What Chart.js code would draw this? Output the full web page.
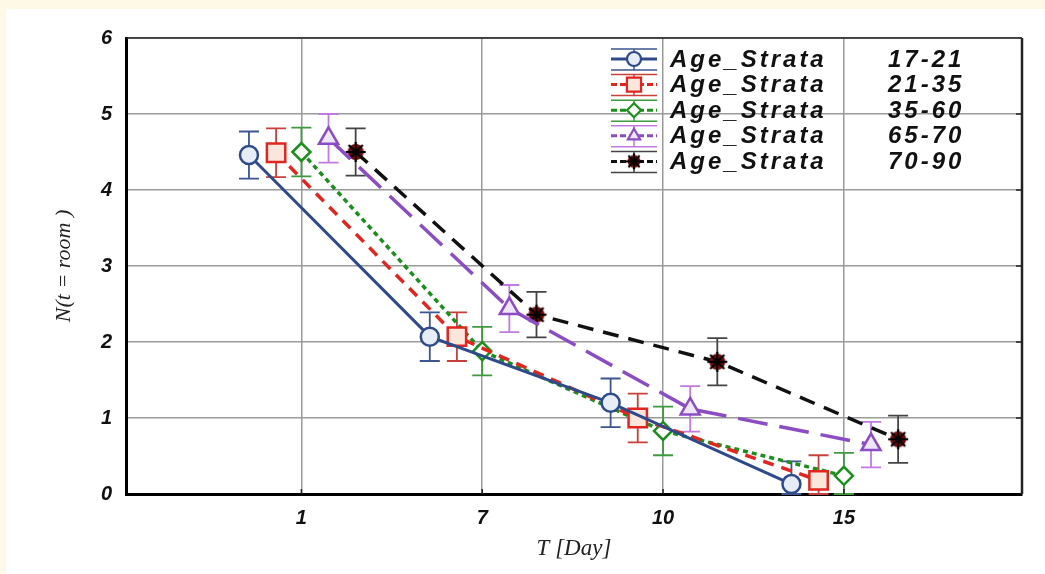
<!DOCTYPE html>
<html>
<head>
<meta charset="utf-8">
<script src="https://cdn.jsdelivr.net/npm/chart.js@4.4.1/dist/chart.umd.min.js"></script>
<style>
  html, body { margin: 0; padding: 0; background: #fdf9e6; }
  #wrap { position: absolute; left: 6px; top: 9px; width: 1039px; height: 565px; background: #fff; }
</style>
</head>
<body>
<div id="wrap"><canvas id="chart"></canvas></div>
<script>
// x categories (days), placed at 1..4 on the axis
const days = ["1", "7", "10", "15"];
const strata = ["17-21", "21-35", "35-60", "65-70", "70-90"];

// mean values per age stratum
const v1721 = [4.46, 2.07, 1.20, 0.13];
const v2135 = [4.49, 2.07, 1.00, 0.18];
const v3560 = [4.50, 1.88, 0.83, 0.24];
const v6570 = [4.68, 2.44, 1.12, 0.65];
const v7090 = [4.50, 2.36, 1.74, 0.72];

// error bar half widths
const e1721 = [0.31, 0.32, 0.32, 0.30];
const e2135 = [0.32, 0.32, 0.32, 0.33];
const e3560 = [0.32, 0.32, 0.32, 0.30];
const e6570 = [0.32, 0.31, 0.30, 0.30];
const e7090 = [0.31, 0.30, 0.31, 0.31];

const values = [v1721, v2135, v3560, v6570, v7090];
const errors = [e1721, e2135, e3560, e6570, e7090];

// styling per series
const dodge = [-0.29, -0.14, 0, 0.15, 0.30];
const lineColors = ["#2e4a8b", "#e0261e", "#1b8f1b", "#8c4cc4", "#111111"];
const errColors = ["#3d5590", "#c8403a", "#3f9a3f", "#c27ae0", "#444444"];
const fills = ["#e6edf7", "#fbe6dc", "#ffffff", "#efe6f8", "#7a0a0a"];
const dashes = [[], [11, 8], [5, 4], [30, 12], [16, 10]];
const shapes = ["circle", "rect", "rectRot", "triangle", null];
const radii = [9, 13, 9, 11, 10];

// asterisk marker for the 70-90 group
function starMarker(r) {
  const c = document.createElement("canvas");
  const s = r * 2 + 4;
  c.width = s; c.height = s;
  const g = c.getContext("2d");
  const m = s / 2;
  g.fillStyle = "#7a0a0a";
  g.beginPath(); g.arc(m, m, r * 0.8, 0, Math.PI * 2); g.fill();
  g.strokeStyle = "#000"; g.lineWidth = 2.2;
  for (let k = 0; k < 4; k++) {
    const a = k * Math.PI / 4;
    g.beginPath();
    g.moveTo(m - Math.cos(a) * r, m - Math.sin(a) * r);
    g.lineTo(m + Math.cos(a) * r, m + Math.sin(a) * r);
    g.stroke();
  }
  return c;
}
const star = starMarker(10);
const starSmall = starMarker(8);

const datasets = values.map((vals, s) => ({
  label: "Age_Strata " + strata[s],
  data: vals.map((y, i) => ({ x: i + 1 + dodge[s], y: y })),
  showLine: true,
  borderColor: lineColors[s],
  borderWidth: s === 0 ? 3 : 3.5,
  borderDash: dashes[s],
  pointStyle: shapes[s] || star,
  pointRadius: radii[s],
  pointHoverRadius: radii[s],
  pointBackgroundColor: fills[s],
  pointBorderColor: s === 4 ? "#000" : lineColors[s],
  pointBorderWidth: 2.5,
  errs: errors[s],
  errColor: errColors[s]
}));

const errorBars = {
  id: "errorBars",
  beforeDatasetsDraw(chart) {
    const ctx = chart.ctx;
    const xs = chart.scales.x, ys = chart.scales.y;
    chart.data.datasets.forEach(ds => {
      ctx.save();
      ctx.strokeStyle = ds.errColor;
      ctx.lineWidth = 1.8;
      ds.data.forEach((p, i) => {
        const px = xs.getPixelForValue(p.x);
        const top = ys.getPixelForValue(p.y + ds.errs[i]);
        const bot = ys.getPixelForValue(Math.max(0, p.y - ds.errs[i]));
        ctx.beginPath();
        ctx.moveTo(px, top); ctx.lineTo(px, bot);
        ctx.moveTo(px - 10, top); ctx.lineTo(px + 10, top);
        ctx.moveTo(px - 10, bot); ctx.lineTo(px + 10, bot);
        ctx.stroke();
      });
      ctx.restore();
    });
  }
};

const frame = {
  id: "frame",
  afterDraw(chart) {
    const ctx = chart.ctx;
    const a = chart.chartArea;
    const ys = chart.scales.y, xs = chart.scales.x;
    ctx.save();
    ctx.strokeStyle = "#222";
    ctx.lineWidth = 1.5;
    ctx.beginPath();
    ctx.moveTo(a.left, a.top); ctx.lineTo(a.right, a.top);
    ctx.stroke();
    ctx.lineWidth = 2.5;
    ctx.beginPath();
    ctx.moveTo(a.right, a.top); ctx.lineTo(a.right, a.bottom);
    ctx.stroke();
    ctx.lineWidth = 1.5;
    ctx.beginPath();
    for (let v = 1; v < 6; v++) {
      const py = ys.getPixelForValue(v);
      ctx.moveTo(a.right - 6, py); ctx.lineTo(a.right, py);
    }
    [1, 2, 3, 4].forEach(v => {
      const px = xs.getPixelForValue(v);
      ctx.moveTo(px, a.bottom); ctx.lineTo(px, a.bottom - 5);
    });
    ctx.stroke();

    // y axis title
    ctx.fillStyle = "#222";
    ctx.font = "italic 22px 'Liberation Serif', serif";
    ctx.textAlign = "center";
    ctx.textBaseline = "middle";
    ctx.translate(58, (a.top + a.bottom) / 2);
    ctx.rotate(-Math.PI / 2);
    ctx.fillText("N(t = room )", 0, 0);
    ctx.restore();
  }
};

const legendBox = {
  id: "legendBox",
  afterDraw(chart) {
    const ctx = chart.ctx;
    const a = chart.chartArea;
    const x0 = a.right - 411, x1 = a.right - 365, xm = (x0 + x1) / 2;
    ctx.save();
    chart.data.datasets.forEach((ds, s) => {
      const y = a.top + 21 + s * 25.6;
      ctx.lineWidth = 1.5;
      ctx.strokeStyle = ds.errColor;
      ctx.setLineDash([]);
      ctx.beginPath();
      ctx.moveTo(x0, y - 10); ctx.lineTo(x1, y - 10);
      ctx.moveTo(x0, y + 11); ctx.lineTo(x1, y + 11);
      ctx.moveTo(xm, y - 10); ctx.lineTo(xm, y + 11);
      ctx.stroke();
      ctx.lineWidth = 3;
      ctx.strokeStyle = ds.borderColor;
      ctx.setLineDash(s === 0 ? [] : [6, 3]);
      ctx.beginPath();
      ctx.moveTo(x0, y); ctx.lineTo(x1, y);
      ctx.stroke();
      ctx.setLineDash([]);
      ctx.fillStyle = ds.pointBackgroundColor;
      ctx.strokeStyle = ds.pointBorderColor;
      ctx.lineWidth = 2.2;
      Chart.helpers.drawPoint(ctx, {
        pointStyle: s === 4 ? starSmall : ds.pointStyle,
        radius: s === 1 ? 10 : 7,
        borderWidth: 2.2,
        rotation: 0
      }, xm, y);

      ctx.fillStyle = "#111";
      ctx.font = "italic bold 24px 'Liberation Sans', Arial, sans-serif";
      ctx.letterSpacing = "3px";
      ctx.textBaseline = "middle";
      ctx.textAlign = "left";
      ctx.fillText("Age_Strata", a.right - 352, y + 1);
      ctx.fillText(strata[s], a.right - 134, y + 1);
    });
    ctx.restore();
  }
};

const tickFont = { family: "'Liberation Sans', Arial, sans-serif", size: 20, style: "italic", weight: "bold" };

new Chart(document.getElementById("chart").getContext("2d"), {
  type: "scatter",
  data: { datasets: datasets },
  options: {
    responsive: true,
    maintainAspectRatio: false,
    animation: false,
    layout: { padding: { top: 29, right: 23, left: 0, bottom: 0 } },
    plugins: {
      legend: { display: false },
      tooltip: { enabled: false }
    },
    scales: {
      x: {
        type: "linear",
        min: 0.03,
        max: 4.985,
        afterBuildTicks: sc => { sc.ticks = [1, 2, 3, 4].map(v => ({ value: v })); },
        afterFit: sc => { sc.height = 80; },
        ticks: {
          color: "#111",
          font: tickFont,
          padding: 12,
          callback: v => days[v - 1]
        },
        grid: { color: "#9a9a9a", lineWidth: 1.5, drawTicks: false },
        border: { color: "#000", width: 3 },
        title: {
          display: true,
          text: "T [Day]",
          color: "#222",
          font: { family: "'Liberation Serif', serif", size: 23, style: "italic" },
          padding: { bottom: 11, top: 0 }
        }
      },
      y: {
        min: 0,
        max: 6,
        afterFit: sc => { sc.width = 120; },
        ticks: { stepSize: 1, color: "#111", font: tickFont, padding: 14 },
        grid: { color: "#9a9a9a", lineWidth: 1.5, drawTicks: false },
        border: { color: "#000", width: 3 }
      }
    }
  },
  plugins: [errorBars, frame, legendBox]
});
</script>
</body>
</html>
